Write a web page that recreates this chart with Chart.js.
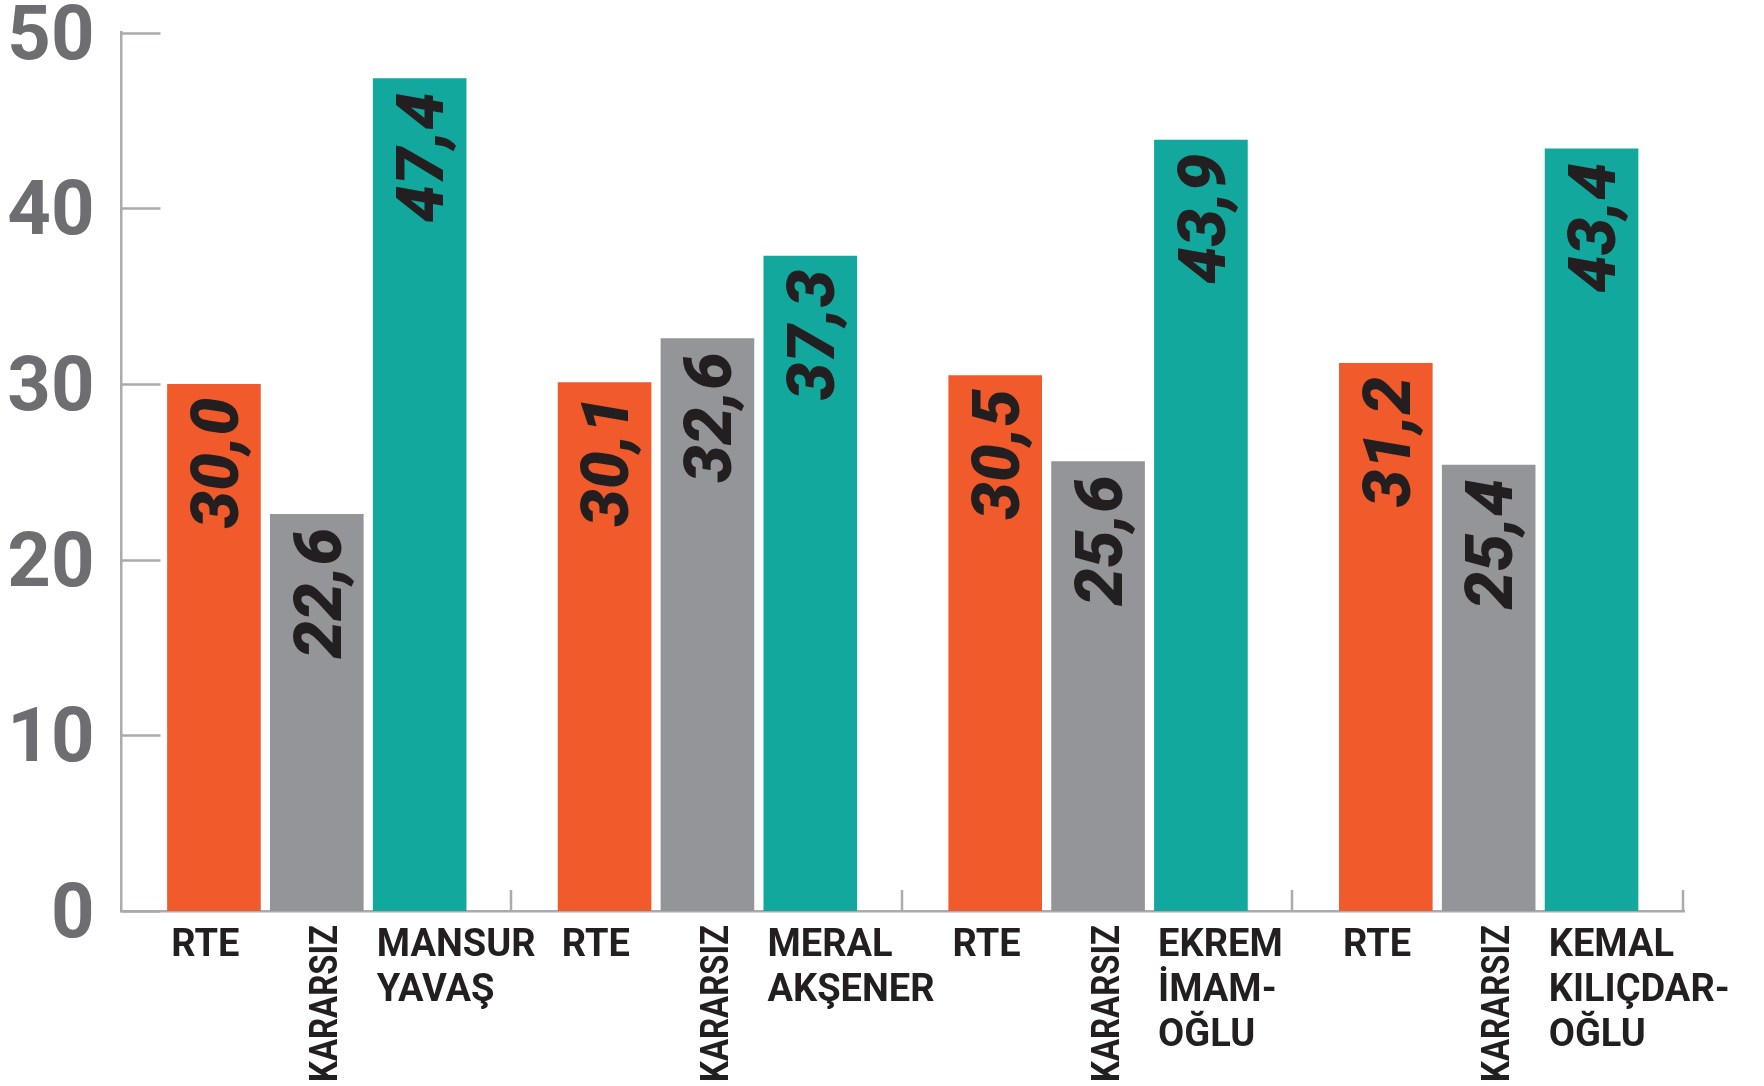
<!DOCTYPE html>
<html>
<head>
<meta charset="utf-8">
<script src="https://cdn.jsdelivr.net/npm/chart.js@4.4.1/dist/chart.umd.min.js"></script>
<style>
  html, body { margin: 0; padding: 0; background: #ffffff; }
  #wrap { width: 1764px; height: 1086px; }
</style>
</head>
<body>
<div id="wrap"><canvas id="c" width="1764" height="1086"></canvas></div>
<script>
// ---- Data ----
const groups = ['MANSUR YAVAŞ', 'MERAL AKŞENER', 'EKREM İMAMOĞLU', 'KEMAL KILIÇDAROĞLU'];
const rteValues = [30.0, 30.1, 30.5, 31.2];
const undecidedValues = [22.6, 32.6, 25.6, 25.4];
const candidateValues = [47.4, 37.3, 43.9, 43.4];
const rteLabels = [['RTE'], ['RTE'], ['RTE'], ['RTE']];
const undecidedLabels = ['KARARSIZ', 'KARARSIZ', 'KARARSIZ', 'KARARSIZ'];
const candidateLabels = [['MANSUR', 'YAVAŞ'], ['MERAL', 'AKŞENER'], ['EKREM', 'İMAM-', 'OĞLU'], ['KEMAL', 'KILIÇDAR-', 'OĞLU']];
const yTickValues = [0, 10, 20, 30, 40, 50];

// ---- Styles ----
const ORANGE = '#f15a2b';
const GRAY = '#939598';
const TEAL = '#12a89d';
const AXIS = '#a9abae';
const TEXT = '#231f20';
const YLABEL = '#6d6e71';

function fmt(v) { return v.toFixed(1).replace('.', ','); }

const decor = {
  id: 'decor',
  beforeDatasetsDraw(chart) {
    const { ctx, chartArea, scales: { x, y } } = chart;
    ctx.save();
    ctx.strokeStyle = AXIS;
    ctx.lineWidth = 2.5;
    // inward y ticks
    y.ticks.forEach(t => {
      const py = Math.round(y.getPixelForValue(t.value)) + 0.5;
      ctx.beginPath();
      ctx.moveTo(chartArea.left, py);
      ctx.lineTo(chartArea.left + 39, py);
      ctx.stroke();
    });
    // group separators rising from x axis
    const n = x.getLabels().length;
    const cw = (x.right - x.left) / n;
    for (let i = 0; i < n; i++) {
      const px = Math.round(x.getPixelForValue(i) + cw / 2) - 1;
      ctx.beginPath();
      ctx.moveTo(px, chartArea.bottom);
      ctx.lineTo(px, chartArea.bottom - 21);
      ctx.stroke();
    }
    ctx.restore();
  },
  afterDatasetsDraw(chart) {
    const { ctx, chartArea } = chart;
    const base = chartArea.bottom;
    ctx.save();
    // value labels inside bars
    const vSize = 67;
    chart.data.datasets.forEach((ds, di) => {
      const meta = chart.getDatasetMeta(di);
      meta.data.forEach((bar, i) => {
        ctx.save();
        ctx.font = 'italic 900 ' + vSize + 'px Roboto';
        ctx.fillStyle = TEXT;
        ctx.translate(bar.x + vSize * 0.355, bar.y + 14);
        ctx.rotate(-Math.PI / 2);
        ctx.textAlign = 'right';
        ctx.textBaseline = 'alphabetic';
        ctx.fillText(fmt(ds.data[i]), 0, 0);
        ctx.restore();
      });
    });
    // category labels under bars
    const lSize = 38;
    ctx.font = 'bold ' + lSize + 'px Roboto';
    ctx.fillStyle = TEXT;
    ctx.textBaseline = 'alphabetic';
    const drawLines = (bar, lines) => {
      const left = bar.x - bar.width / 2 + 4;
      ctx.textAlign = 'left';
      lines.forEach((ln, k) => ctx.fillText(ln, left, base + 45 + k * 45));
    };
    const m0 = chart.getDatasetMeta(0), m1 = chart.getDatasetMeta(1), m2 = chart.getDatasetMeta(2);
    m0.data.forEach((bar, i) => drawLines(bar, rteLabels[i]));
    m2.data.forEach((bar, i) => drawLines(bar, candidateLabels[i]));
    m1.data.forEach((bar, i) => {
      ctx.save();
      ctx.translate(bar.x + 7 + lSize * 0.355, base + 14);
      ctx.rotate(-Math.PI / 2);
      ctx.textAlign = 'right';
      ctx.fillText(undecidedLabels[i], 0, 0, 157);
      ctx.restore();
    });
    ctx.restore();
  }
};

new Chart(document.getElementById('c'), {
  type: 'bar',
  data: {
    labels: groups,
    datasets: [
      { label: 'RTE', data: rteValues, backgroundColor: ORANGE },
      { label: 'KARARSIZ', data: undecidedValues, backgroundColor: GRAY },
      { label: 'ADAY', data: candidateValues, backgroundColor: TEAL }
    ]
  },
  options: {
    responsive: false,
    devicePixelRatio: 1,
    animation: false,
    datasets: { bar: { categoryPercentage: 0.79, barPercentage: 0.91, borderWidth: 0 } },
    layout: { padding: { top: 0, right: 80, bottom: 175, left: 0 } },
    plugins: { legend: { display: false }, tooltip: { enabled: false } },
    scales: {
      x: {
        display: true,
        grid: { display: false, drawTicks: false },
        ticks: { display: false },
        border: { display: true, color: AXIS, width: 2.5 }
      },
      y: {
        min: 0,
        max: 50,
        afterBuildTicks(scale) { scale.ticks = yTickValues.map(v => ({ value: v })); },
        afterFit(scale) { scale.width = 121.5; scale.paddingTop = 32.6; },
        grid: { display: false, drawTicks: false },
        border: { display: true, color: AXIS, width: 2.5 },
        ticks: {
          color: YLABEL,
          padding: 27,
          labelOffset: 7,
          font: { family: 'Roboto', weight: 'bold', size: 76, lineHeight: 1 }
        }
      }
    }
  },
  plugins: [decor]
});
</script>
</body>
</html>
